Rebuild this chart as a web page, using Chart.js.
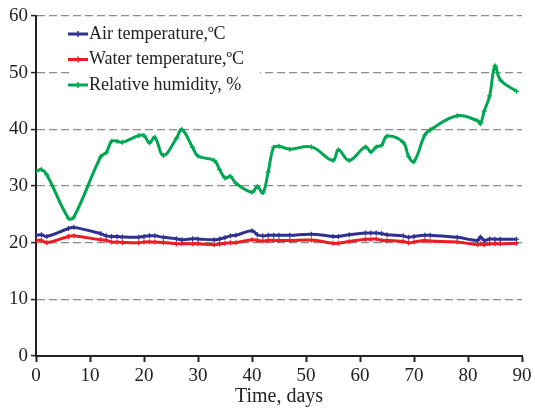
<!DOCTYPE html>
<html>
<head>
<meta charset="utf-8">
<script src="https://cdn.jsdelivr.net/npm/chart.js@4.4.1/dist/chart.umd.min.js"></script>
<style>
  html, body { margin: 0; padding: 0; background: #fff; }
  #wrap { width: 535px; height: 409px; }
</style>
</head>
<body>
<div id="wrap"><canvas id="myChart" width="535" height="409"></canvas></div>
<script>
// sampling days
const days = [0, 1, 2, 6, 7, 12, 13, 14, 15, 16, 19, 20, 21, 22, 23.6, 26, 27, 29, 30, 33,
    34, 35, 36, 37, 40, 41, 42, 43, 44, 45, 47, 51, 55, 56, 58, 61, 62, 63, 64, 65,
    68, 69, 70, 72, 73, 78, 81.8, 82.3, 83, 84, 85, 86, 89];

const airTemp = [21.3, 21.4, 21.1, 22.5, 22.7, 21.6, 21.2, 21.1, 21.1, 21.0, 20.95, 21.1, 21.2, 21.2, 20.95, 20.7, 20.5, 20.7, 20.65, 20.5,
    20.65, 20.9, 21.2, 21.3, 22.1, 21.4, 21.2, 21.3, 21.3, 21.3, 21.3, 21.5, 21.1, 21.1, 21.4, 21.7, 21.7, 21.7, 21.6, 21.4,
    21.2, 20.95, 21.1, 21.3, 21.3, 20.95, 20.4, 21.0, 20.4, 20.65, 20.6, 20.6, 20.6];

const waterTemp = [20.4, 20.4, 20.0, 21.1, 21.2, 20.5, 20.4, 20.1, 20.1, 20.05, 20.0, 20.1, 20.15, 20.1, 20.05, 19.8, 19.8, 19.8, 19.8, 19.65,
    19.75, 19.9, 20.0, 20.0, 20.5, 20.4, 20.3, 20.4, 20.4, 20.4, 20.4, 20.45, 19.9, 19.9, 20.2, 20.6, 20.6, 20.65, 20.4, 20.4,
    20.2, 20.0, 20.1, 20.4, 20.3, 20.1, 19.65, 19.8, 19.65, 19.8, 19.8, 19.8, 19.9];

const humidity = [32.6, 32.9, 32.0, 24.3, 24.5, 35.2, 35.9, 37.9, 37.9, 37.7, 38.9, 38.9, 37.6, 38.6, 35.4, 38.4, 40.0, 36.8, 35.3, 34.5,
    32.9, 31.4, 31.7, 30.5, 28.9, 29.9, 28.8, 32.5, 36.8, 37.0, 36.5, 36.9, 34.5, 36.4, 34.5, 36.9, 36.0, 36.9, 37.2, 38.8,
    37.7, 35.2, 34.3, 39.0, 39.9, 42.4, 41.5, 41.0, 43.2, 45.9, 51.2, 48.7, 46.7];

const seriesLabels = ['Air temperature,\u00baC', 'Water temperature,\u00baC', 'Relative humidity, %'];
const xTicks = [0, 10, 20, 30, 40, 50, 60, 70, 80, 90];
const yTicks = [0, 10, 20, 30, 40, 50, 60];

const colors = ['#2e3192', '#ed1c24', '#00a651'];
const serif = '"Liberation Serif", "DejaVu Serif", serif';

function toPoints(values) {
    return values.map((v, i) => ({ x: days[i], y: v }));
}

function makeSet(label, values, color) {
    return {
        label: label,
        data: toPoints(values),
        borderColor: color,
        backgroundColor: color,
        borderWidth: 3,
        pointStyle: 'cross',
        pointRadius: 2.5,
        pointBorderWidth: 1.2,
        tension: 0.4,
        fill: false
    };
}

// legend drawn inside the plot, over a white box
const insideLegend = {
    id: 'insideLegend',
    afterDatasetsDraw(chart) {
        const c = chart.ctx;
        c.save();
        c.fillStyle = '#fff';
        c.fillRect(70, 20, 190, 76);
        chart.data.datasets.forEach((ds, i) => {
            const y = 34 + i * 25.5;
            c.strokeStyle = ds.borderColor;
            c.lineWidth = 3;
            c.beginPath();
            c.moveTo(68, y);
            c.lineTo(88, y);
            c.stroke();
            c.lineWidth = 1.5;
            c.beginPath();
            c.moveTo(78, y - 3);
            c.lineTo(78, y + 3);
            c.stroke();
            c.fillStyle = '#222';
            c.font = '18px ' + serif;
            c.textBaseline = 'middle';
            c.textAlign = 'left';
            c.fillText(ds.label, 89, y);
        });
        c.restore();
    }
};

const ctx = document.getElementById('myChart').getContext('2d');
new Chart(ctx, {
    type: 'line',
    data: {
        datasets: [
            makeSet(seriesLabels[0], airTemp, colors[0]),
            makeSet(seriesLabels[1], waterTemp, colors[1]),
            makeSet(seriesLabels[2], humidity, colors[2])
        ]
    },
    options: {
        responsive: false,
        animation: false,
        layout: { padding: { left: 0, right: 13, top: 16, bottom: 0 } },
        plugins: {
            legend: { display: false },
            tooltip: { enabled: false }
        },
        scales: {
            x: {
                type: 'linear',
                min: 0,
                max: 90,
                afterBuildTicks: (s) => { s.ticks = xTicks.map(v => ({ value: v })); },
                afterFit: (s) => { s.height = 53; },
                border: { color: '#222', width: 2 },
                grid: { drawOnChartArea: false, drawTicks: true, tickLength: 6, tickColor: '#222', tickWidth: 2 },
                ticks: { color: '#222', font: { family: serif, size: 19 }, padding: 3, maxRotation: 0 },
                title: {
                    display: true,
                    text: 'Time, days',
                    color: '#222',
                    font: { family: serif, size: 20 },
                    padding: { top: 0, bottom: 0 }
                }
            },
            y: {
                min: 0,
                max: 60,
                afterBuildTicks: (s) => { s.ticks = yTicks.map(v => ({ value: v })); },
                afterFit: (s) => { s.width = 36; },
                border: { color: '#222', width: 2, dash: [8, 4] },
                grid: {
                    color: '#8c8c8c',
                    lineWidth: 1.2,
                    tickColor: '#222',
                    tickBorderDash: [],
                    tickLength: 5,
                    tickWidth: 1.5
                },
                ticks: { color: '#222', font: { family: serif, size: 19 }, padding: 3 }
            }
        }
    },
    plugins: [insideLegend]
});
</script>
</body>
</html>
